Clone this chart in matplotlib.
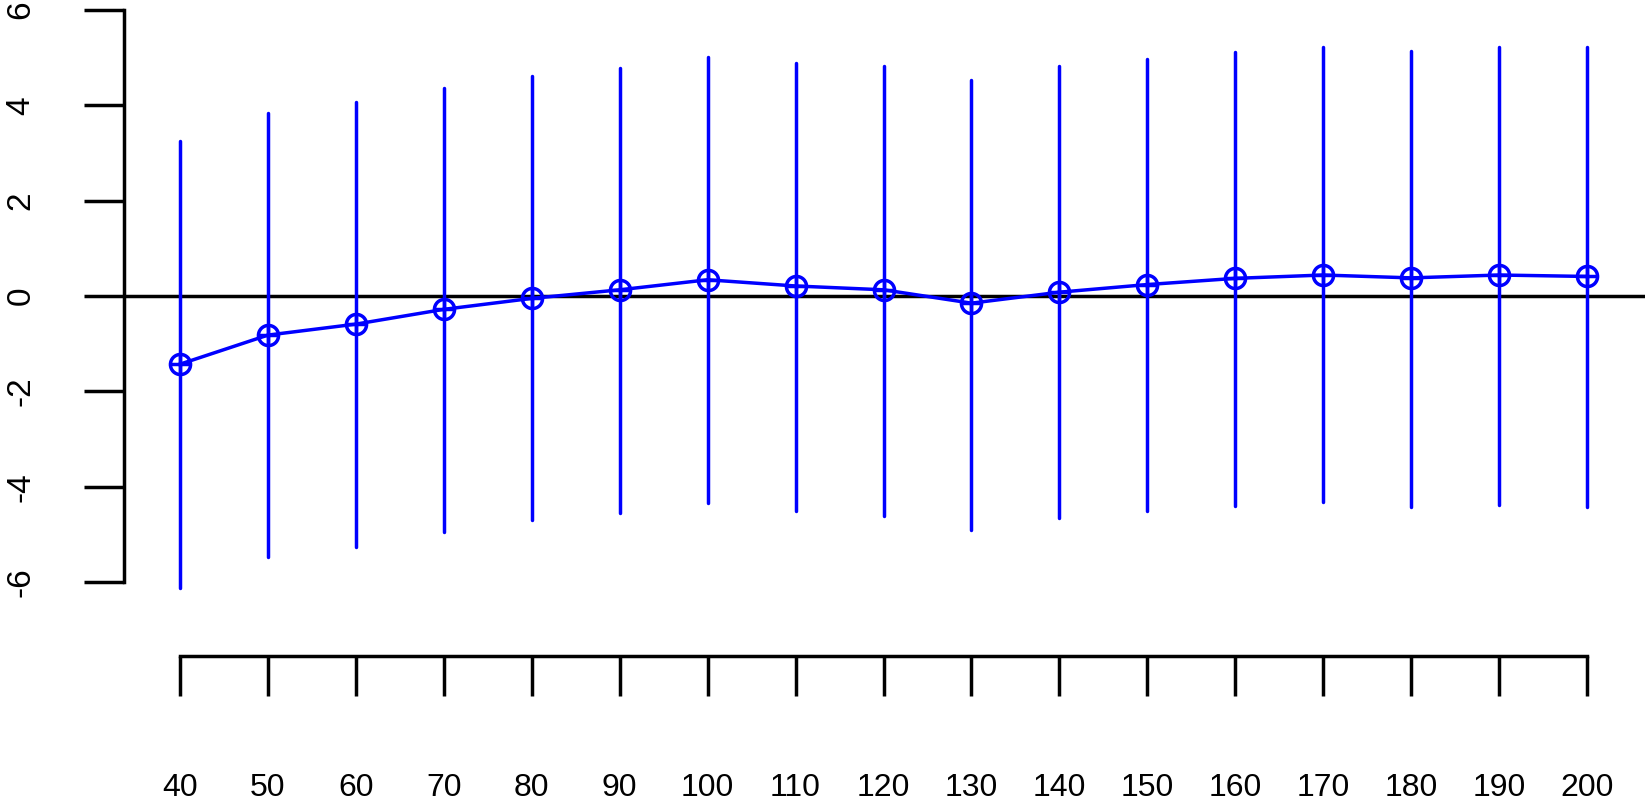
import numpy as np
import matplotlib
matplotlib.use("Agg")
import matplotlib.pyplot as plt

plt.rcParams['font.family'] = ['Liberation Sans', 'DejaVu Sans']

# values
x_vals = [40, 50, 60, 70, 80, 90, 100, 110, 120, 130, 140, 150, 160, 170, 180, 190, 200]
means = [-1.43, -0.82, -0.59, -0.28, -0.05, 0.13, 0.34, 0.21, 0.13, -0.15, 0.08,
         0.24, 0.37, 0.44, 0.38, 0.44, 0.41]
upper = [3.25, 3.84, 4.07, 4.36, 4.62, 4.78, 5.01, 4.89, 4.82, 4.53, 4.82,
         4.98, 5.12, 5.22, 5.14, 5.23, 5.22]
lower = [-6.13, -5.48, -5.26, -4.95, -4.70, -4.55, -4.34, -4.51, -4.61, -4.91, -4.66,
         -4.51, -4.41, -4.32, -4.43, -4.38, -4.43]
y_ticks = [-6, -4, -2, 0, 2, 4, 6]

W, H = 1645, 800
fig = plt.figure(figsize=(W / 100, H / 100), dpi=100)
left_px = 124
ax = fig.add_axes([left_px / W, 0, 1 - left_px / W, 1])

# pixel mapping: 40 -> 180px, 200 -> 1587px ; y 0 -> 296px, 47.67 px per unit
pxx = (1587 - 180) / 160
ax.set_xlim(40 - (180 - left_px) / pxx, 200 + (W - 1587) / pxx)
pxy = 47.67
ax.set_ylim((296 - H) / pxy, 296 / pxy)

blue = '#0000FF'
lw = 2.5
ax.vlines(x_vals, lower, upper, color=blue, lw=lw, capstyle='round', zorder=2)
ax.axhline(0, color='black', lw=2.5, zorder=1)
ax.plot(x_vals, means, color=blue, lw=lw, zorder=3)
ax.plot(x_vals, means, 'o', ms=14.5, mfc='none', mec=blue, mew=lw, zorder=4)
ax.plot(x_vals, means, '+', ms=14.5, mec=blue, mew=lw, zorder=4)

for s in ['top', 'right']:
    ax.spines[s].set_visible(False)
ax.spines['left'].set_bounds(-6, 6)
ax.spines['left'].set_linewidth(2.5)
ax.spines['bottom'].set_position(('data', (296 - 656) / pxy))
ax.spines['bottom'].set_bounds(40, 200)
ax.spines['bottom'].set_linewidth(2.5)

ax.set_xticks(x_vals)
ax.set_xticklabels([str(v) for v in x_vals])
ax.set_yticks(y_ticks)
ax.set_yticklabels([str(v) for v in y_ticks], rotation=90, va='center')
ax.tick_params(axis='both', direction='out', length=29, width=2.5, labelsize=23)
ax.tick_params(axis='x', pad=55)
ax.tick_params(axis='y', pad=34, labelsize=24)
ax.patch.set_visible(False)

fig.savefig('out.png', dpi=100)
